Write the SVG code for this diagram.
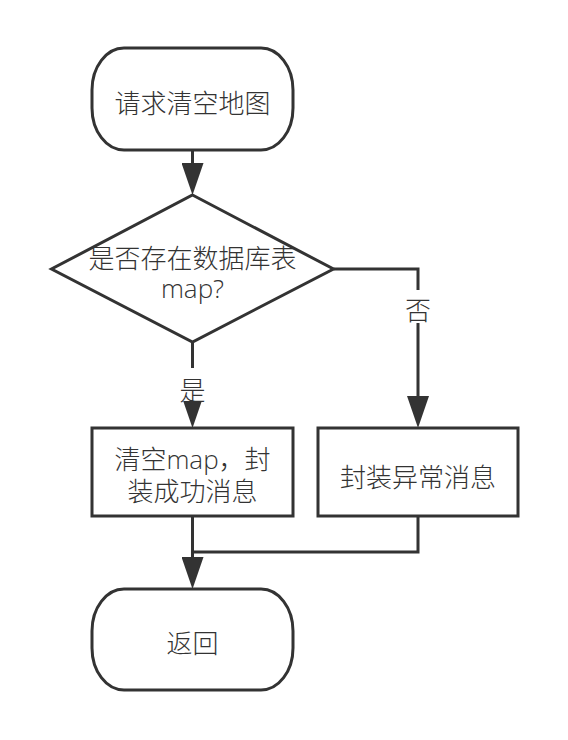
<svg xmlns="http://www.w3.org/2000/svg" width="568" height="740" viewBox="0 0 568 740">
<style>
.shape{fill:#ffffff;stroke:#333333;stroke-width:3}
.edge{fill:none;stroke:#333333;stroke-width:3}
.t{font-family:"Open Sans","Noto Sans CJK SC",sans-serif;font-size:26px;font-weight:300;fill:#333333;text-anchor:middle}
.lbg{fill:#ffffff}
</style>
<defs>
<marker id="arr" viewBox="0 0 32 22" refX="0" refY="11" markerWidth="32" markerHeight="22" markerUnits="userSpaceOnUse" orient="auto">
<path d="M0,0 L32,11 L0,22 Z" fill="#333333"/>
</marker>
</defs>
<rect width="568" height="740" fill="#ffffff"/>
<g id="connectors">
<path class="edge" d="M192.5,150 V163" marker-end="url(#arr)"/>
<path class="edge" d="M192.5,342 V396" marker-end="url(#arr)"/>
<path class="edge" d="M333.5,269 H418 V396" marker-end="url(#arr)"/>
<path class="edge" d="M418,516 V552 H192.5"/>
<path class="edge" d="M192.5,516 V557" marker-end="url(#arr)"/>
<g id="label-yes">
<rect class="lbg" x="179" y="368" width="27" height="33"/>
<text class="t" x="192.5" y="399.5">是</text>
</g>
<g id="label-no">
<rect class="lbg" x="404" y="290" width="28" height="33"/>
<text class="t" x="418" y="320">否</text>
</g>
</g>
<g id="start">
<rect class="shape" x="92" y="48" width="201" height="102" rx="32" ry="42"/>
<text class="t" x="192.5" y="112.5">请求清空地图</text>
</g>
<g id="decision">
<polygon class="shape" points="192.5,195 333.5,269 192.5,342 51.5,269"/>
<text class="t" x="192.5" y="267.5"><tspan x="192.5">是否存在数据库表</tspan><tspan x="192.5" dy="30.5">map?</tspan></text>
</g>
<g id="clear-map">
<rect class="shape" x="92" y="428" width="201" height="88"/>
<text class="t" x="192.5" y="469"><tspan x="192.5">清空map，封</tspan><tspan x="192.5" dy="32">装成功消息</tspan></text>
</g>
<g id="error-msg">
<rect class="shape" x="318" y="428" width="200" height="88"/>
<text class="t" x="418" y="486.5">封装异常消息</text>
</g>
<g id="return">
<rect class="shape" x="92" y="589" width="201" height="101" rx="32" ry="42"/>
<text class="t" x="192.5" y="653">返回</text>
</g>
</svg>
